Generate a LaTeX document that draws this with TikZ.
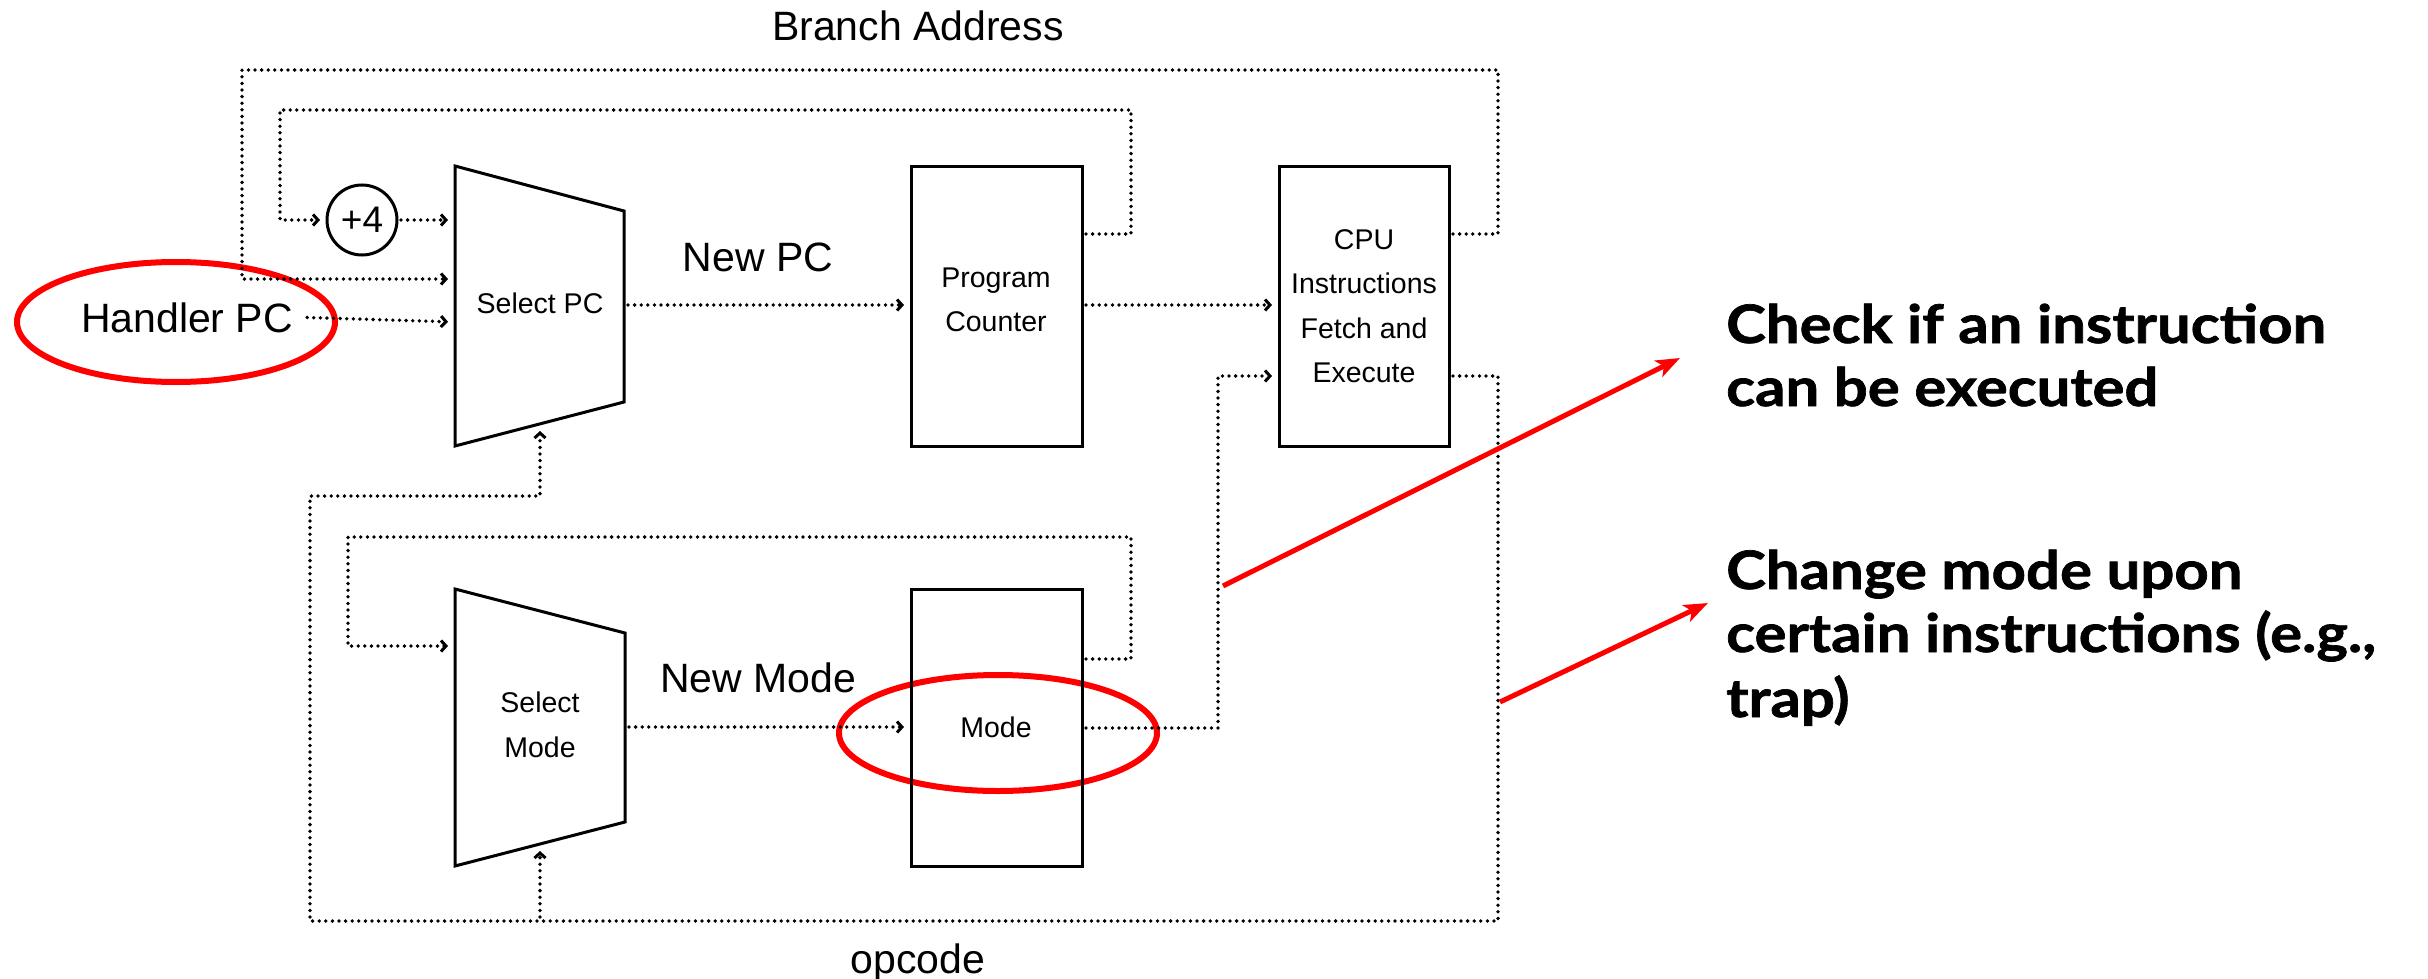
\documentclass[tikz,border=0pt]{standalone}
\usepackage{fontspec}
\setmainfont{Liberation Sans}
\newfontfamily\notefont[FakeStretch=1.13,BoldFeatures={FakeBold=1.3}]{Lato}
\usetikzlibrary{arrows.meta}
\begin{document}
\begin{tikzpicture}[x=1pt,y=-1pt,
  dots/.style={line width=3.8pt,line cap=round,dash pattern=on 0pt off 6.6pt},
  flow/.style={dots,shorten <=4pt,shorten >=7pt,-{Straight Barb[length=5pt,width=11pt,line width=3pt]}},
  reg/.style={draw,line width=3pt,rectangle,inner sep=0pt,outer sep=0pt},
  trap/.style={draw,line width=3pt,line join=miter},
  lbl/.style={font=\fontsize{41}{49}\selectfont,inner sep=0pt},
  small/.style={font=\fontsize{28.5}{44.5}\selectfont,inner sep=0pt,align=center},
  note/.style={font=\notefont\bfseries\fontsize{53}{63}\selectfont,inner sep=0pt,anchor=base west},
  hl/.style={draw=red,line width=6pt},
  callout/.style={red,line width=5pt,-{Stealth[length=24pt,width=18pt,inset=6pt]}}]
\fill[white] (0,0) rectangle (2428,979);
\useasboundingbox (0,0) rectangle (2428,979);

% red highlight ellipses (under the drawing)
\draw[hl] (176,322) ellipse [x radius=159,y radius=60];
\draw[hl] (998,733) ellipse [x radius=159,y radius=58];

% shapes
\draw[trap] (455,166) -- (624,211) -- (624,402) -- (455,446) -- cycle;
\draw[trap] (455,589) -- (625,633) -- (625,822) -- (455,866) -- cycle;
\node[reg,minimum width=171,minimum height=280] (pc) at (996.5,306) {};
\node[reg,minimum width=170,minimum height=280] (cpu) at (1364,306) {};
\node[reg,minimum width=171,minimum height=277] (mode) at (996.5,727.5) {};
\node[circle,draw,line width=3pt,minimum size=70,inner sep=0pt,outer sep=0pt,font=\fontsize{37}{44}\selectfont] (plus4) at (362,220) {+4};

% texts
\node[small] (selpc) at (540,303) {Select PC};
\node[small] (selmode) at (540,725) {Select\\Mode};
\node[small] (pctext) at (996,300) {Program\\Counter};
\node[small] (cputext) at (1364,306) {CPU\\Instructions\\Fetch and\\Execute};
\node[small] (modetext) at (996,727) {Mode};
\node[lbl,anchor=base] (branch) at (918,41) {Branch Address};
\node[lbl,anchor=base] (newpc) at (758,271) {New PC};
\node[lbl,anchor=base] (newmode) at (758,692) {New Mode};
\node[lbl,anchor=base] (opcode) at (918,973) {opcode};
\node[lbl,anchor=base] (handler) at (187,332) {Handler PC};

% connector end points on the selector shapes
\coordinate (spin1) at (455,220);
\coordinate (spin2) at (455,279);
\coordinate (spin3) at (455,322);
\coordinate (spout) at (624,305);
\coordinate (spbot) at (540,424);
\coordinate (smin) at (455,646);
\coordinate (smout) at (625,727);
\coordinate (smbot) at (540,844);
\coordinate (opjoin) at (540,921);

% connectors
\draw[flow] (cpu.east |- 0,234) -- (1498,234) -- (1498,70) -- (242,70) -- (242,279) -- (spin2);
\draw[flow] (pc.east |- 0,234) -- (1131,234) -- (1131,110) -- (280,110) -- (280,220) -- (plus4.west);
\draw[flow] (plus4.east) -- (spin1);
\draw[flow] ([xshift=10pt]handler.east) -- (spin3);
\draw[flow] (spout) -- (pc.west |- spout);
\draw[flow] (pc.east |- 0,305) -- (cpu.west |- 0,305);
\draw[flow] (mode.east |- 0,728) -- (1218,728) -- (1218,376) -- (cpu.west |- 0,376);
\draw[flow] (cpu.east |- 0,376) -- (1498,376) -- (1498,921) -- (310,921) -- (310,496) -- (540,496) -- (spbot);
\draw[flow] (opjoin) -- (smbot);
\draw[flow] (mode.east |- 0,659) -- (1131,659) -- (1131,537) -- (348,537) -- (348,646) -- (smin);
\draw[flow] (smout) -- (mode.west |- smout);

% notes
\node[note] (note1a) at (1726,343) {Check if an instruction};
\node[note] (note1b) at (1726,406) {can be executed};
\node[note] (note2a) at (1726,589) {Change mode upon};
\node[note] (note2b) at (1726,652) {certain instructions (e.g.,};
\node[note] (note2c) at (1726,717) {trap)};

\coordinate (c1s) at (1223,586);
\coordinate (c1e) at (1680,358);
\coordinate (c2s) at (1500,702);
\coordinate (c2e) at (1708,603);
\draw[callout] (c1s) -- (c1e);
\draw[callout] (c2s) -- (c2e);
\end{tikzpicture}
\end{document}
